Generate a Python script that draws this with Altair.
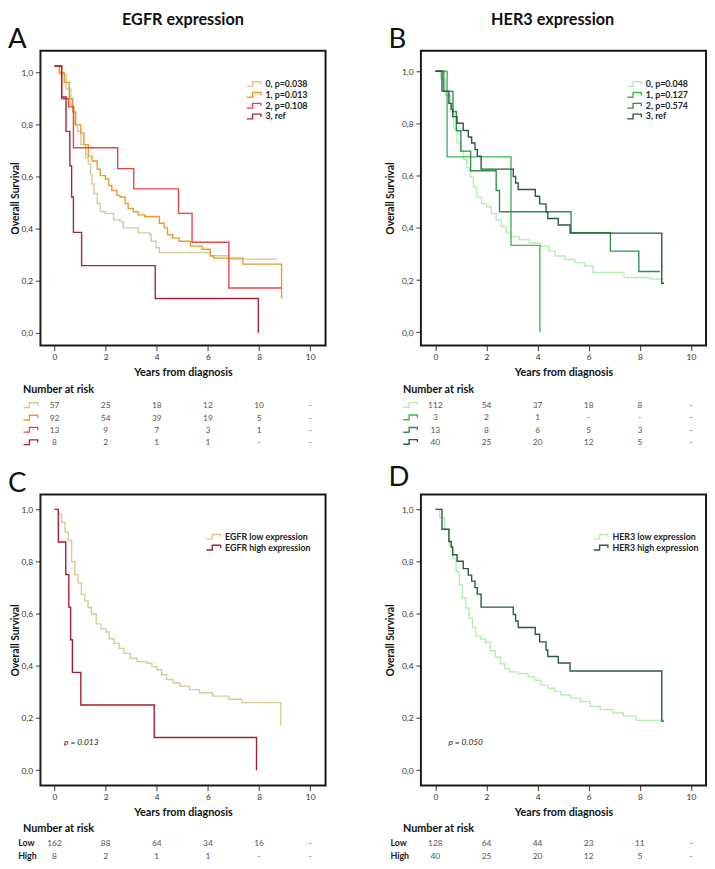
import altair as alt
import pandas as pd

FONT = "Lato"
YEARS = [0, 2, 4, 6, 8, 10]
SYM = "M-1.8,0.6H-0.3V-0.6H1.8V0.1"

# ---------------- Panel A : EGFR expression, groups 0-3 ----------------
A_LABELS = ["0, p=0.038", "1, p=0.013", "2, p=0.108", "3, ref"]
A_COLORS = ["#d8cc95", "#ec9a2b", "#e8454b", "#a3263a"]
A0_T = [0, 0.19, 0.45, 0.64, 0.77, 0.90, 1.03, 1.22, 1.32, 1.41, 1.47, 1.54, 1.67, 1.79, 1.99, 2.31, 2.56, 2.69, 3.27, 3.72, 3.78, 3.97, 4.10, 6.09, 6.79, 8.72]
A0_S = [1.025, 0.994, 0.937, 0.874, 0.799, 0.774, 0.723, 0.673, 0.648, 0.610, 0.572, 0.535, 0.497, 0.465, 0.459, 0.434, 0.428, 0.403, 0.384, 0.377, 0.352, 0.327, 0.308, 0.296, 0.283, 0.283]
A1_T = [0, 0.19, 0.38, 0.58, 0.71, 0.83, 1.03, 1.15, 1.32, 1.47, 1.67, 1.79, 1.99, 2.12, 2.24, 2.44, 2.56, 2.76, 2.88, 3.08, 3.27, 3.53, 4.10, 4.29, 4.42, 4.62, 4.87, 5.32, 5.77, 6.09, 6.22, 7.37, 8.88]
A1_S = [1.025, 1.0, 0.962, 0.899, 0.849, 0.799, 0.767, 0.723, 0.679, 0.660, 0.629, 0.604, 0.591, 0.566, 0.547, 0.528, 0.522, 0.497, 0.478, 0.465, 0.453, 0.447, 0.421, 0.403, 0.377, 0.365, 0.352, 0.333, 0.321, 0.296, 0.287, 0.264, 0.132]
A2_T = [0, 0.28, 0.55, 0.74, 2.47, 3.10, 4.85, 5.38, 6.82, 8.88]
A2_S = [1.025, 0.899, 0.868, 0.711, 0.631, 0.553, 0.459, 0.348, 0.172, 0.172]
A3_T = [0, 0.28, 0.45, 0.60, 0.67, 0.74, 1.06, 3.94, 7.97]
A3_S = [1.025, 0.906, 0.774, 0.642, 0.522, 0.386, 0.258, 0.132, 0.0]
A_RISK0 = ["57", "25", "18", "12", "10", "-"]
A_RISK1 = ["92", "54", "39", "19", "5", "-"]
A_RISK2 = ["13", "9", "7", "3", "1", "-"]
A_RISK3 = ["8", "2", "1", "1", "-", "-"]

# ---------------- Panel B : HER3 expression, groups 0-3 ----------------
B_LABELS = ["0, p=0.048", "1, p=0.127", "2, p=0.574", "3, ref"]
B_COLORS = ["#b4eeb2", "#3dba50", "#2f9150", "#2c5a3d"]
B0_T = [0, 0.21, 0.40, 0.59, 0.72, 0.85, 0.97, 1.10, 1.23, 1.36, 1.49, 1.62, 1.81, 2.00, 2.19, 2.38, 2.58, 2.77, 2.96, 3.28, 3.67, 4.12, 4.44, 4.69, 5.08, 5.46, 5.85, 6.17, 7.38, 8.41, 8.92]
B0_S = [1.0, 0.971, 0.908, 0.845, 0.782, 0.726, 0.694, 0.663, 0.631, 0.594, 0.556, 0.518, 0.493, 0.481, 0.455, 0.430, 0.405, 0.380, 0.367, 0.355, 0.342, 0.330, 0.311, 0.292, 0.279, 0.267, 0.254, 0.229, 0.210, 0.204, 0.204]
B1_T = [0, 0.46, 2.96, 4.09]
B1_S = [1.0, 0.672, 0.333, 0.0]
B2_T = [0, 0.33, 0.69, 0.82, 1.0, 1.38, 2.38, 2.51, 5.31, 6.85, 7.96, 8.79]
B2_S = [1.0, 0.923, 0.846, 0.772, 0.694, 0.619, 0.543, 0.462, 0.382, 0.311, 0.233, 0.233]
HIGH3_T = [0, 0.26, 0.53, 0.62, 0.68, 0.85, 1.09, 1.29, 1.42, 1.55, 1.64, 1.79, 3.05, 3.14, 3.24, 3.91, 4.08, 4.33, 4.40, 4.81, 5.27, 8.86, 8.95]
HIGH3_S = [1.0, 0.924, 0.877, 0.855, 0.826, 0.801, 0.773, 0.748, 0.725, 0.700, 0.675, 0.625, 0.597, 0.572, 0.547, 0.521, 0.492, 0.461, 0.436, 0.411, 0.380, 0.188, 0.188]
B_RISK0 = ["112", "54", "37", "18", "8", "-"]
B_RISK1 = ["3", "2", "1", "-", "-", "-"]
B_RISK2 = ["13", "8", "6", "5", "3", "-"]
B_RISK3 = ["40", "25", "20", "12", "5", "-"]

# ---------------- Panel C : EGFR low / high ----------------
C_LABELS = ["EGFR low expression", "EGFR high expression"]
C_COLORS = ["#d8cc95", "#a51e2e"]
CL_T = [0, 0.15, 0.28, 0.41, 0.54, 0.67, 0.79, 0.92, 1.05, 1.18, 1.31, 1.44, 1.63, 1.82, 2.01, 2.14, 2.33, 2.53, 2.72, 2.97, 3.23, 3.62, 3.81, 4.00, 4.19, 4.38, 4.64, 4.90, 5.28, 5.67, 6.18, 6.82, 7.33, 8.85]
CL_S = [1.0, 0.982, 0.951, 0.913, 0.882, 0.800, 0.750, 0.718, 0.674, 0.649, 0.624, 0.599, 0.561, 0.542, 0.530, 0.504, 0.486, 0.467, 0.448, 0.429, 0.416, 0.410, 0.397, 0.385, 0.366, 0.347, 0.335, 0.322, 0.309, 0.297, 0.284, 0.272, 0.259, 0.171]
CH_T = [0, 0.15, 0.44, 0.56, 0.63, 0.70, 1.03, 3.90, 7.90]
CH_S = [1.0, 0.875, 0.75, 0.625, 0.5, 0.375, 0.25, 0.125, 0.0]
C_RISK_LOW = ["162", "88", "64", "34", "16", "-"]
C_RISK_HIGH = ["8", "2", "1", "1", "-", "-"]

# ---------------- Panel D : HER3 low / high ----------------
D_LABELS = ["HER3 low expression", "HER3 high expression"]
D_COLORS = ["#b4eeb2", "#2c5a3d"]
DL_T = [0, 0.17, 0.36, 0.55, 0.68, 0.81, 0.94, 1.06, 1.19, 1.32, 1.45, 1.58, 1.77, 1.96, 2.15, 2.35, 2.54, 2.73, 2.92, 3.24, 3.63, 3.88, 4.14, 4.40, 4.65, 4.91, 5.29, 5.68, 6.06, 6.45, 6.96, 7.35, 7.86, 8.86]
DL_S = [1.0, 0.968, 0.924, 0.861, 0.811, 0.761, 0.710, 0.660, 0.622, 0.584, 0.547, 0.515, 0.503, 0.490, 0.458, 0.433, 0.408, 0.389, 0.377, 0.370, 0.358, 0.345, 0.326, 0.314, 0.301, 0.288, 0.276, 0.263, 0.244, 0.232, 0.219, 0.207, 0.191, 0.191]
D_RISK_LOW = ["128", "64", "44", "23", "11", "-"]
D_RISK_HIGH = ["40", "25", "20", "12", "5", "-"]


def x_axis():
    return alt.Axis(values=YEARS, grid=False, domain=False, tickSize=5, tickColor="#333",
                    tickWidth=1, labelFont=FONT, labelFontSize=8.5, labelColor="#333",
                    labelPadding=2, labelOverlap=False, labelFlush=False,
                    title="Years from diagnosis", titleFont=FONT, titleFontSize=11,
                    titleFontWeight="bold", titleColor="#111", titleY=27,
                    titleBaseline="middle")


def y_axis(h, tx):
    return alt.Axis(values=[0, 0.2, 0.4, 0.6, 0.8, 1.0],
                    labelExpr="replace(format(datum.value, '.1f'), '.', ',')",
                    grid=False, domain=False, tickSize=5, tickColor="#333", tickWidth=1,
                    labelFont=FONT, labelFontSize=8.5, labelColor="#333", labelPadding=3,
                    title="Overall Survival", titleFont=FONT, titleFontSize=10.5,
                    titleFontWeight="bold", titleColor="#111", titleX=tx, titleY=h / 2,
                    titleAngle=270, titleBaseline="middle", titleAlign="center")


def km_panel(key, labels, colors, Ts, Ss, xdom, ydom, h, legend_xy, legend_font,
             risk_rows, nar_xy, row_label_x, sym_x, letter, letter_y, ytx,
             title=None, title_x=0, pval=None):
    fld = "grp" + key
    rows = []
    for lab, T, S in zip(labels, Ts, Ss):
        for i, (t, s) in enumerate(zip(T, S)):
            rows.append({fld: lab, "t": t, "s": s, "i": i})
    df = pd.DataFrame(rows)
    one = pd.DataFrame({"k": [0]})
    X = alt.X("t:Q", scale=alt.Scale(domain=xdom, nice=False, zero=False), axis=x_axis())
    Y = alt.Y("s:Q", scale=alt.Scale(domain=ydom, nice=False, zero=False), axis=y_axis(h, ytx))
    curves = alt.Chart(df).mark_line(interpolate="step-after", strokeWidth=1.4).encode(
        x=X, y=Y,
        color=alt.Color(f"{fld}:N", scale=alt.Scale(domain=labels, range=colors),
                        legend=alt.Legend(orient="none", legendX=legend_xy[0],
                                          legendY=legend_xy[1], title=None,
                                          symbolType=SYM, symbolSize=64,
                                          symbolStrokeWidth=1.4,
                                          symbolFillColor="transparent",
                                          labelFont=FONT, labelFontSize=legend_font,
                                          labelFontWeight="bold", labelColor="#222",
                                          rowPadding=-1.5, labelOffset=6.8, padding=0)),
        order="i:Q")
    frame = alt.Chart(one).mark_rect(filled=False, stroke="#1a1a1a", strokeWidth=2).encode(
        x=alt.value(0), x2=alt.value(290), y=alt.value(0), y2=alt.value(h))
    layers = [curves, frame]
    layers.append(alt.Chart(one).mark_text(text="Number at risk", font=FONT, fontSize=11,
                                           fontWeight="bold", align="left", baseline="middle",
                                           color="#111").encode(x=alt.value(nar_xy[0]),
                                                                 y=alt.value(nar_xy[1])))
    for lab, col, vals, yv in risk_rows:
        rdf = pd.DataFrame({"t": YEARS, "n": vals})
        layers.append(alt.Chart(rdf).mark_text(font=FONT, fontSize=8.5, color="#555",
                                               baseline="middle").encode(
            x=X, y=alt.value(yv), text="n:N"))
        if col is not None:
            layers.append(alt.Chart(one).mark_point(shape=SYM, size=64, filled=False,
                                                    strokeWidth=1.4, color=col, opacity=1).encode(
                x=alt.value(sym_x), y=alt.value(yv)))
        if lab is not None:
            layers.append(alt.Chart(one).mark_text(text=lab, font=FONT, fontSize=9,
                                                   fontWeight="bold", align="left",
                                                   baseline="middle", color="#222").encode(
                x=alt.value(row_label_x), y=alt.value(yv)))
    layers.append(alt.Chart(one).mark_text(text=letter, font=FONT, fontSize=28, align="left",
                                           baseline="alphabetic", color="#111").encode(
        x=alt.value(-33), y=alt.value(letter_y)))
    if title is not None:
        layers.append(alt.Chart(one).mark_text(text=title, font=FONT, fontSize=16.5,
                                               fontWeight="bold", align="center",
                                               baseline="top", color="#111").encode(
            x=alt.value(title_x), y=alt.value(-39.5)))
    if pval is not None:
        layers.append(alt.Chart(one).mark_text(text=pval[0], font=FONT, fontSize=8.5,
                                               fontStyle="italic", align="left",
                                               baseline="middle", color="#222").encode(
            x=alt.value(pval[1]), y=alt.value(pval[2])))
    return alt.layer(*layers).properties(width=290, height=h)


A = km_panel("A", A_LABELS, A_COLORS, [A0_T, A1_T, A2_T, A3_T], [A0_S, A1_S, A2_S, A3_S],
             [-0.55, 10.6], [-0.049, 1.084], 300, (212, 29), 9,
             [(None, A_COLORS[0], A_RISK0, 360.6), (None, A_COLORS[1], A_RISK1, 373.3),
              (None, A_COLORS[2], A_RISK2, 385.6), (None, A_COLORS[3], A_RISK3, 398.3)],
             (-17.7, 345.6), -22, -10, "A", -3, -25.5, title="EGFR expression", title_x=145)

B = km_panel("B", B_LABELS, B_COLORS, [B0_T, B1_T, B2_T, HIGH3_T], [B0_S, B1_S, B2_S, HIGH3_S],
             [-0.565, 10.59], [-0.051, 1.079], 300, (212, 29), 9,
             [(None, B_COLORS[0], B_RISK0, 360.3), (None, B_COLORS[1], B_RISK1, 373.0),
              (None, B_COLORS[2], B_RISK2, 385.7), (None, B_COLORS[3], B_RISK3, 398.0)],
             (-18.3, 345.3), -22, -10.8, "B", -3, -31, title="HER3 expression", title_x=134)

C = km_panel("C", C_LABELS, C_COLORS, [CL_T, CH_T], [CL_S, CH_S],
             [-0.55, 10.6], [-0.059, 1.057], 296, (171, 38), 9,
             [("Low", None, C_RISK_LOW, 354.0), ("High", None, C_RISK_HIGH, 367.3)],
             (-17.7, 340.6), -22.7, -10, "C", -3, -25.5, pval=("p = 0.013", 24, 252))

D = km_panel("D", D_LABELS, D_COLORS, [DL_T, HIGH3_T], [DL_S, HIGH3_S],
             [-0.565, 10.59], [-0.059, 1.057], 296, (178, 38), 9,
             [("Low", None, D_RISK_LOW, 354.3), ("High", None, D_RISK_HIGH, 367.3)],
             (-18.3, 340.6), -31, -10.8, "D", -9, -31, pval=("p = 0.050", 28, 252))

chart = alt.concat(A, B, C, D, columns=2, spacing={"row": 151.5, "column": 97}, bounds="flush") \
    .resolve_scale(color="independent", x="independent", y="independent") \
    .resolve_legend(color="independent") \
    .resolve_axis(x="independent", y="independent") \
    .properties(padding={"top": -4, "left": 0, "right": 0, "bottom": 0}, background="white") \
    .configure_view(strokeWidth=0)

chart.save("out.html", embed_options={"renderer": "svg", "actions": False})
